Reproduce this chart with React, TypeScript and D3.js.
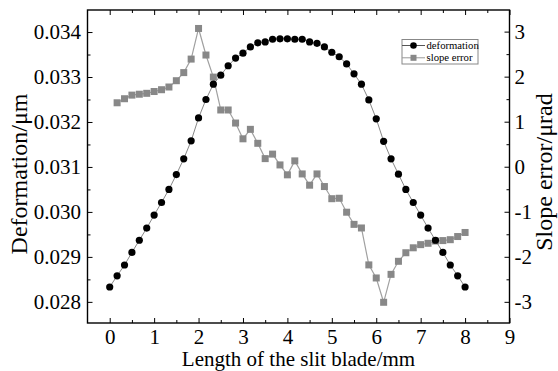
import React, { useEffect, useRef } from 'react'
import * as d3 from 'd3'

// x positions are multiples of 1/6 mm
const deformationX = d3.range(0, 49).map((k) => k / 6)
const deformation = [
  0.02833, 0.02858, 0.02882, 0.0291, 0.02937, 0.02964, 0.02993, 0.03021, 0.0305, 0.03083,
  0.03118, 0.03158, 0.03209, 0.0325, 0.03284, 0.03304, 0.03325, 0.03342, 0.03353, 0.03367,
  0.03376, 0.03378, 0.03384, 0.03385, 0.03385, 0.03384, 0.03384, 0.03378, 0.03375, 0.03367,
  0.03355, 0.03345, 0.03329, 0.03307, 0.03284, 0.03249, 0.03207, 0.03157, 0.03118, 0.03084,
  0.0305, 0.03021, 0.02993, 0.02964, 0.02937, 0.0291, 0.02882, 0.02858, 0.02833,
]

const slopeX = d3.range(1, 49).map((k) => k / 6)
const slopeError = [
  1.42, 1.51, 1.59, 1.61, 1.63, 1.67, 1.71, 1.77, 1.91, 2.09,
  2.39, 3.07, 2.48, 1.99, 1.26, 1.26, 0.97, 0.62, 0.83, 0.52,
  0.18, 0.28, 0.04, -0.18, 0.13, -0.16, -0.41, -0.16, -0.44, -0.71,
  -0.7, -1.01, -1.28, -1.36, -2.18, -2.47, -3.01, -2.39, -2.1, -1.91,
  -1.8, -1.73, -1.7, -1.65, -1.64, -1.62, -1.55, -1.46,
]

const xTicks = [0, 1, 2, 3, 4, 5, 6, 7, 8, 9]
const xMinorTicks = [0.5, 1.5, 2.5, 3.5, 4.5, 5.5, 6.5, 7.5, 8.5]
const leftTicks = [0.028, 0.029, 0.03, 0.031, 0.032, 0.033, 0.034]
const leftMinorTicks = [0.0285, 0.0295, 0.0305, 0.0315, 0.0325, 0.0335]
const rightTicks = [-3, -2, -1, 0, 1, 2, 3]
const rightMinorTicks = [-2.5, -1.5, -0.5, 0.5, 1.5, 2.5]
const legendLabels = ['deformation', 'slope error']

const App = () => {
  const ref = useRef<SVGSVGElement>(null)

  useEffect(() => {
    const width = 558
    const height = 371
    const m = { left: 87.5, right: 509.5, top: 10, bottom: 323 }
    const font = "'Liberation Serif', 'Times New Roman', serif"

    const svg = d3.select(ref.current).attr('width', width).attr('height', height)
    svg.selectAll('*').remove()

    const x = d3.scaleLinear().domain([-0.5, 9]).range([m.left, m.right])
    const yL = d3.scaleLinear().domain([0.02753, 0.03449]).range([m.bottom, m.top])
    const yR = d3.scaleLinear().domain([-3.47, 3.48]).range([m.bottom, m.top])

    const styleAxis = (g) => {
      g.style('font-family', font).style('font-size', '21px')
      g.select('.domain').remove()
      g.selectAll('line').attr('stroke', '#000').attr('stroke-width', 1)
      g.selectAll('text').style('font-family', font).style('font-size', '21px').attr('fill', '#000')
    }

    // major axes, ticks pointing inward
    svg.append('g').attr('transform', `translate(0,${m.bottom})`)
      .call(d3.axisBottom(x).tickValues(xTicks).tickFormat(d3.format('d')).tickSizeInner(-5).tickSizeOuter(0).tickPadding(6))
      .call(styleAxis)
    svg.append('g').attr('transform', `translate(0,${m.top})`)
      .call(d3.axisTop(x).tickValues(xTicks).tickFormat(() => '').tickSizeInner(-5).tickSizeOuter(0))
      .call(styleAxis)
    svg.append('g').attr('transform', `translate(${m.left},0)`)
      .call(d3.axisLeft(yL).tickValues(leftTicks).tickFormat(d3.format('.3f')).tickSizeInner(-5).tickSizeOuter(0).tickPadding(6.5))
      .call(styleAxis)
    svg.append('g').attr('transform', `translate(${m.right},0)`)
      .call(d3.axisRight(yR).tickValues(rightTicks).tickFormat((d) => (d < 0 ? '-' + Math.abs(d) : String(d))).tickSizeInner(-5).tickSizeOuter(0).tickPadding(5))
      .call(styleAxis)

    // minor ticks
    svg.append('g').attr('transform', `translate(0,${m.bottom})`)
      .call(d3.axisBottom(x).tickValues(xMinorTicks).tickFormat(() => '').tickSizeInner(-3).tickSizeOuter(0))
      .call(styleAxis)
    svg.append('g').attr('transform', `translate(0,${m.top})`)
      .call(d3.axisTop(x).tickValues(xMinorTicks).tickFormat(() => '').tickSizeInner(-3).tickSizeOuter(0))
      .call(styleAxis)
    svg.append('g').attr('transform', `translate(${m.left},0)`)
      .call(d3.axisLeft(yL).tickValues(leftMinorTicks).tickFormat(() => '').tickSizeInner(-3).tickSizeOuter(0))
      .call(styleAxis)
    svg.append('g').attr('transform', `translate(${m.right},0)`)
      .call(d3.axisRight(yR).tickValues(rightMinorTicks).tickFormat(() => '').tickSizeInner(-3).tickSizeOuter(0))
      .call(styleAxis)

    // frame
    svg.append('rect')
      .attr('x', m.left).attr('y', m.top)
      .attr('width', m.right - m.left).attr('height', m.bottom - m.top)
      .attr('fill', 'none').attr('stroke', '#000').attr('stroke-width', 1.4)

    // slope error
    const slopePts = slopeX.map((d, i) => [d, slopeError[i]])
    svg.append('path')
      .attr('d', d3.line().x((d) => x(d[0])).y((d) => yR(d[1]))(slopePts))
      .attr('fill', 'none').attr('stroke', '#a0a0a0').attr('stroke-width', 1.2)
    svg.append('g').selectAll('rect').data(slopePts).join('rect')
      .attr('x', (d) => x(d[0]) - 3.5).attr('y', (d) => yR(d[1]) - 3.5)
      .attr('width', 7).attr('height', 7).attr('fill', '#888')

    // deformation
    const defPts = deformationX.map((d, i) => [d, deformation[i]])
    svg.append('path')
      .attr('d', d3.line().x((d) => x(d[0])).y((d) => yL(d[1]))(defPts))
      .attr('fill', 'none').attr('stroke', '#888').attr('stroke-width', 1)
    svg.append('g').selectAll('circle').data(defPts).join('circle')
      .attr('cx', (d) => x(d[0])).attr('cy', (d) => yL(d[1]))
      .attr('r', 3.6).attr('fill', '#000')

    // legend
    const lg = svg.append('g').attr('transform', 'translate(402,39.5)')
    lg.append('rect').attr('width', 76).attr('height', 24.5)
      .attr('fill', '#fff').attr('stroke', '#888').attr('stroke-width', 1)
    legendLabels.forEach((label, i) => {
      const cy = 6 + i * 12.3
      lg.append('line').attr('x1', 0).attr('x2', 23).attr('y1', cy).attr('y2', cy)
        .attr('stroke', i === 0 ? '#555' : '#999').attr('stroke-width', 1)
      if (i === 0) lg.append('circle').attr('cx', 11.5).attr('cy', cy).attr('r', 3.3).attr('fill', '#000')
      else lg.append('rect').attr('x', 8.5).attr('y', cy - 3).attr('width', 6).attr('height', 6).attr('fill', '#888')
      lg.append('text').attr('x', 24.5).attr('y', cy + 3.6).text(label)
        .style('font-family', font).style('font-size', '10.7px').attr('fill', '#000')
    })

    // axis titles
    svg.append('text')
      .attr('x', (m.left + m.right) / 2).attr('y', 366)
      .attr('text-anchor', 'middle').style('font-family', font).style('font-size', '21px')
      .text('Length of the slit blade/mm')
    svg.append('text')
      .attr('transform', 'translate(27,174) rotate(-90)')
      .attr('text-anchor', 'middle').style('font-family', font).style('font-size', '24px')
      .text('Deformation/μm')
    svg.append('text')
      .attr('transform', 'translate(552,172) rotate(-90)')
      .attr('text-anchor', 'middle').style('font-family', font).style('font-size', '24px')
      .text('Slope error/μrad')
  }, [])

  return <svg ref={ref} style={{ position: 'absolute', left: 0, top: 0, background: '#fff' }} />
}

export default App
